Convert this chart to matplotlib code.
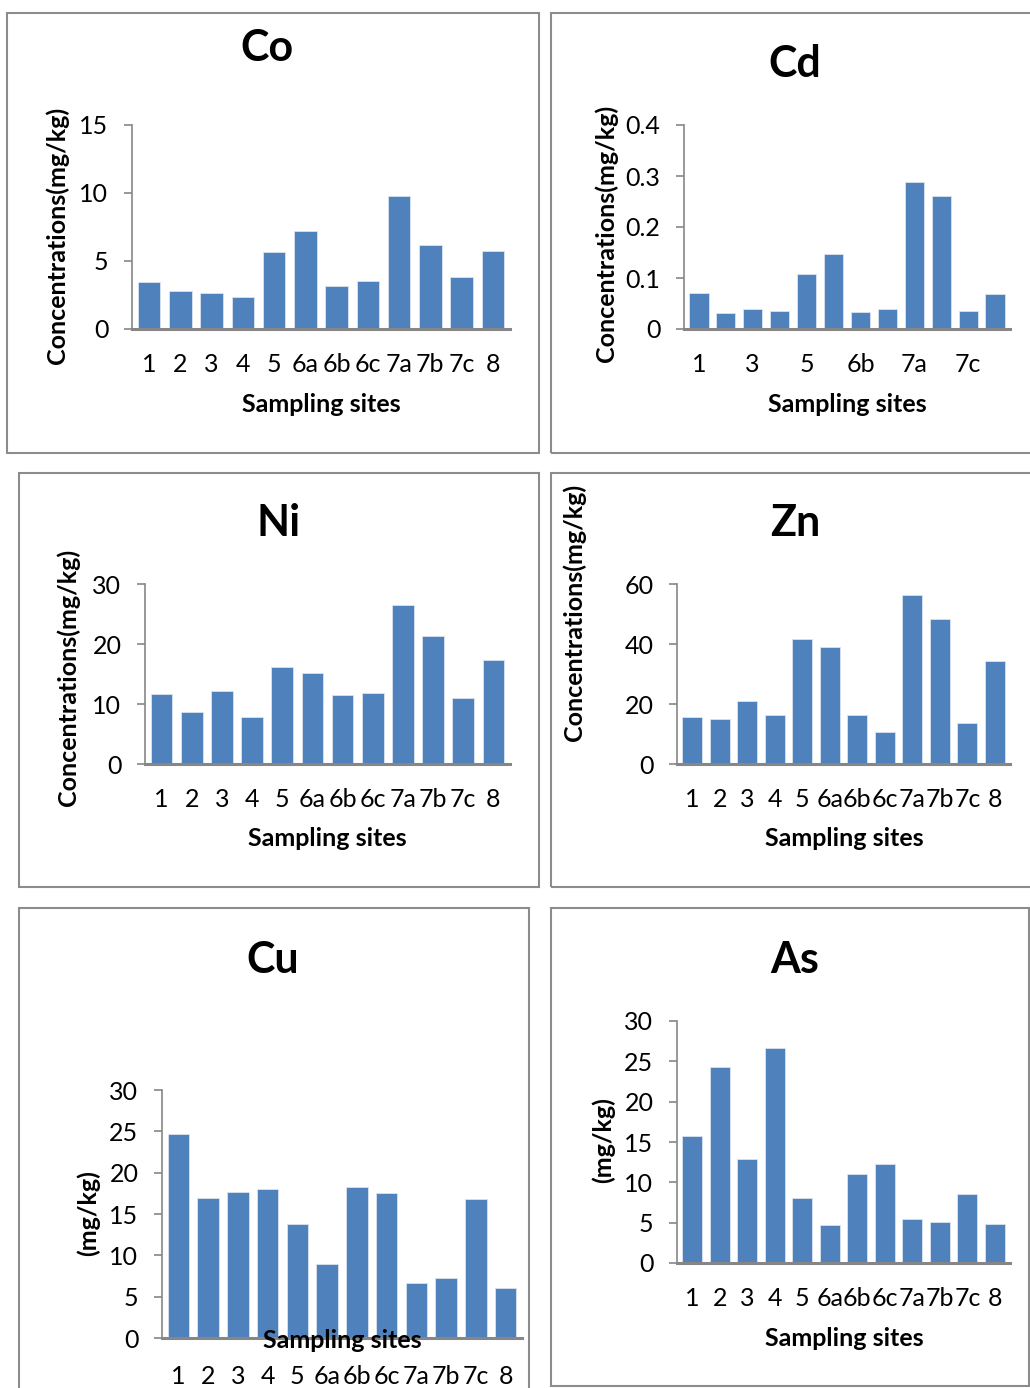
import matplotlib
matplotlib.use('Agg')
from matplotlib import pyplot as plt
from matplotlib.patches import Rectangle

plt.rcParams['font.family'] = ['Lato', 'DejaVu Sans']

# Данные
sites = ['1', '2', '3', '4', '5', '6a', '6b', '6c', '7a', '7b', '7c', '8']
co = [3.47, 2.81, 2.67, 2.32, 5.67, 7.19, 3.18, 3.50, 9.76, 6.14, 3.84, 5.70]
cd = [0.070, 0.031, 0.040, 0.035, 0.108, 0.147, 0.033, 0.039, 0.289, 0.261, 0.036, 0.069]
ni = [11.6, 8.7, 12.2, 7.8, 16.1, 15.2, 11.5, 11.8, 26.5, 21.4, 11.0, 17.4]
zn = [15.8, 15.1, 21.0, 16.2, 41.7, 38.9, 16.5, 10.6, 56.2, 48.2, 13.8, 34.4]
cu = [24.7, 16.9, 17.7, 18.0, 13.8, 9.0, 18.3, 17.6, 6.6, 7.3, 16.8, 6.0]
as_ = [15.7, 24.3, 12.95, 26.65, 8.1, 4.75, 11.05, 12.3, 5.5, 5.1, 8.55, 4.85]

W, H = 1030, 1388
BAR = '#4F81BD'
AXC = '#868686'

fig = plt.figure(figsize=(W / 100, H / 100), dpi=100)


def fx(px):
    return px / W


def fy(py):
    return 1 - py / H


def box(x0, y0, x1, y1):
    fig.add_artist(Rectangle((fx(x0), fy(y1)), fx(x1) - fx(x0), fy(y0) - fy(y1),
                             transform=fig.transFigure, fill=False,
                             edgecolor='#8c8c8c', linewidth=1.5))


def panel(vals, ymax, ystep, rect, title, tpos, ylab, ypos, xpos, xpad, every=1):
    left, top, right, bottom = rect
    ax = fig.add_axes([fx(left), fy(bottom), fx(right) - fx(left), fy(top) - fy(bottom)])
    x = list(range(len(sites)))
    ax.bar(x, vals, width=0.72, color=BAR, edgecolor='#dbe4f0', linewidth=0.6)
    ax.set_xlim(-0.55, len(sites) - 0.45)
    ax.set_ylim(0, ymax)
    ticks = []
    t = 0
    while t <= ymax + 1e-9:
        ticks.append(round(t, 3))
        t += ystep
    ax.set_yticks(ticks)
    ax.set_yticklabels([('%g' % v) for v in ticks])
    ax.set_xticks(x[::every])
    ax.set_xticklabels(sites[::every])
    for s in ['top', 'right']:
        ax.spines[s].set_visible(False)
    ax.spines['left'].set_color(AXC)
    ax.spines['left'].set_linewidth(1.2)
    ax.spines['bottom'].set_color(AXC)
    ax.spines['bottom'].set_linewidth(2.2)
    ax.tick_params(axis='y', direction='out', length=6, width=1.2, color=AXC,
                   labelsize=18, pad=11)
    ax.tick_params(axis='x', length=0, labelsize=18, pad=xpad)
    fig.text(fx(tpos[0]), fy(tpos[1]), title, fontsize=31, fontweight='bold',
             ha='center', va='center')
    fig.text(fx(ypos[0]), fy(ypos[1]), ylab, fontsize=18, fontweight='bold',
             ha='center', va='center', rotation=90)
    fig.text(fx(xpos[0]), fy(xpos[1]), 'Sampling sites', fontsize=18, fontweight='bold',
             ha='center', va='center')
    return ax


conc = 'Concentrations(mg/kg)'

# Рамки панелей
box(7, 13, 539, 453)
box(551, 13, 1040, 453)
box(19, 473, 539, 887)
box(551, 473, 1040, 887)
box(19, 908, 529, 1400)
box(551, 908, 1029, 1386)

panel(co, 15, 5, (132, 125, 510, 329), 'Co', (267, 48), conc, (57, 235), (321, 405), 17.5)
panel(cd, 0.4, 0.1, (684, 125, 1010, 329), 'Cd', (795, 64), conc, (606, 233), (847, 405), 17.5, every=2)
panel(ni, 30, 10, (145, 584, 510, 764), 'Ni', (279, 523), conc, (68, 677), (327, 839), 17.5)
panel(zn, 60, 20, (677, 584, 1010, 764), 'Zn', (795, 523), conc, (574, 612), (844, 839), 17.5)
panel(cu, 30, 5, (162, 1090, 522, 1338), 'Cu', (273, 960), '(mg/kg)', (88, 1213), (342, 1341), 19.5)
panel(as_, 30, 5, (677, 1021, 1010, 1263), 'As', (795, 960), '(mg/kg)', (603, 1140), (844, 1338), 17.5)

fig.savefig('out.png', dpi=100)
